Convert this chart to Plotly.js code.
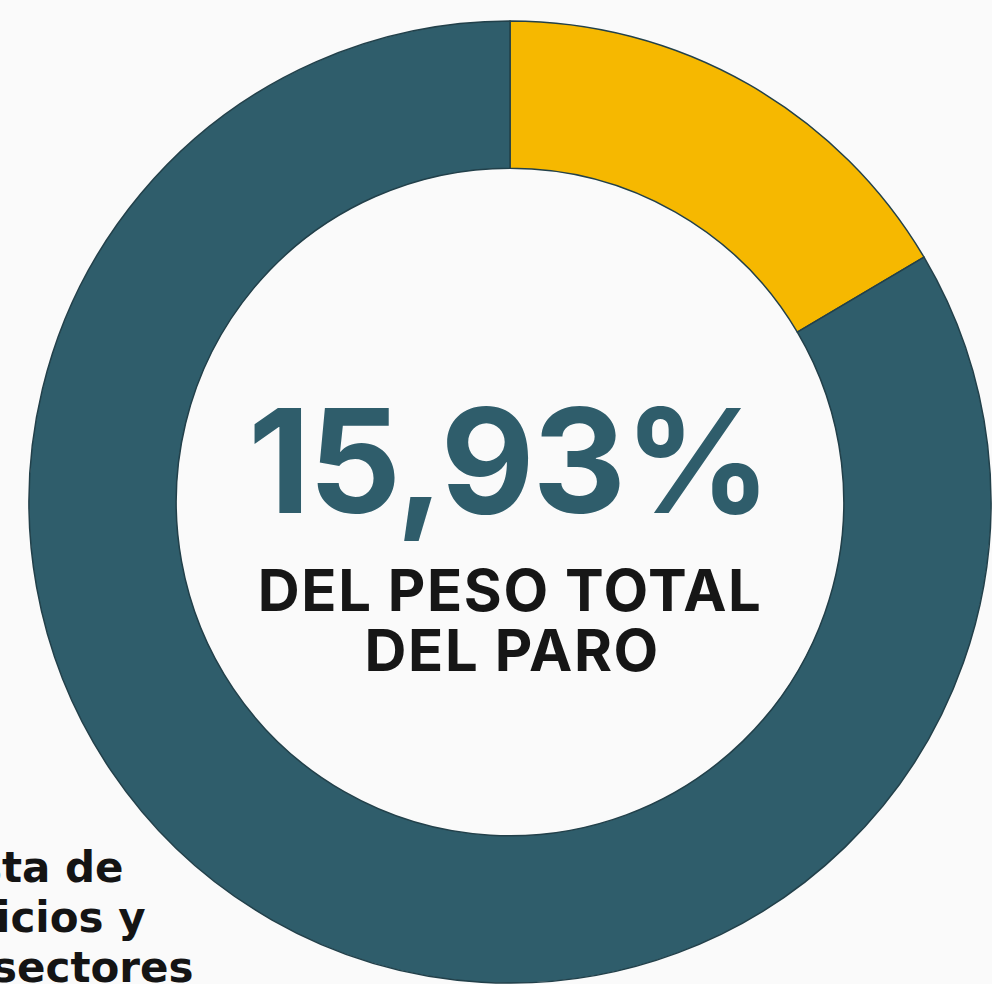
<!DOCTYPE html>
<html>
<head>
<meta charset="utf-8">
<script src="https://cdn.plot.ly/plotly-3.0.1.min.js"></script>
<style>html,body{margin:0;padding:0;background:#fafafa;}#chart{width:992px;height:984px;}</style>
</head>
<body>
<div id="chart"></div>
<script>
const labels = ["Peso del sector", "Resto del paro"];
const values = [16.5, 83.5];
const colors = ["#f6b800", "#2f5d6b"];
const centerValue = "15,93%";
const centerLines = ["DEL PESO TOTAL", "DEL PARO"];
const sideLines = ["sta de", "icios y", "sectores"];

const W = 992, H = 984;
const cx = 510, cy = 502, R = 481;

const trace = {
  type: "pie",
  labels: labels,
  values: values,
  sort: false,
  direction: "clockwise",
  rotation: 0,
  hole: 0.694,
  textinfo: "none",
  hoverinfo: "label+percent",
  marker: {colors: colors, line: {color: "#22404a", width: 1.5}},
  domain: {x: [(cx - R) / W, (cx + R) / W], y: [(H - cy - R) / H, (H - cy + R) / H]},
  showlegend: false
};

const annotations = [
  {text: "<b>" + centerValue + "</b>", x: 508 / W, y: 1 - 460 / H, xref: "paper", yref: "paper",
   xanchor: "center", yanchor: "middle",
   showarrow: false, font: {family: "Inter, sans-serif", size: 145, color: "#2f5d6b", weight: 800}},
  {text: "<b>" + centerLines[0] + "</b>", x: 510 / W, y: 1 - 590 / H, xref: "paper", yref: "paper",
   xanchor: "center", yanchor: "middle",
   showarrow: false, font: {family: "Inter, sans-serif", size: 58, color: "#161616"}},
  {text: "<b>" + centerLines[1] + "</b>", x: 512 / W, y: 1 - 650 / H, xref: "paper", yref: "paper",
   xanchor: "center", yanchor: "middle",
   showarrow: false, font: {family: "Inter, sans-serif", size: 58, color: "#161616"}}
];
const sideRight = [126, 148, 196];
const sideY = [867, 917, 967];
sideLines.forEach((t, i) => {
  annotations.push({text: "<b>" + t + "</b>", x: sideRight[i] / W, y: 1 - sideY[i] / H, xref: "paper", yref: "paper",
    xanchor: "right", yanchor: "middle", showarrow: false,
    font: {family: "DejaVu Sans, sans-serif", size: 42, color: "#141414"}});
});

const layout = {
  width: W, height: H,
  margin: {l: 0, r: 0, t: 0, b: 0},
  paper_bgcolor: "#fafafa",
  plot_bgcolor: "#fafafa",
  annotations: annotations
};
Plotly.newPlot("chart", [trace], layout, {displayModeBar: false, staticPlot: true}).then(() => {
  const texts = document.querySelectorAll("#chart .annotation-text");
  [1, 2].forEach(i => { if (texts[i]) texts[i].style.letterSpacing = "1.6px"; });
  if (texts[0]) texts[0].style.letterSpacing = "-2px";
});
</script>
</body>
</html>
